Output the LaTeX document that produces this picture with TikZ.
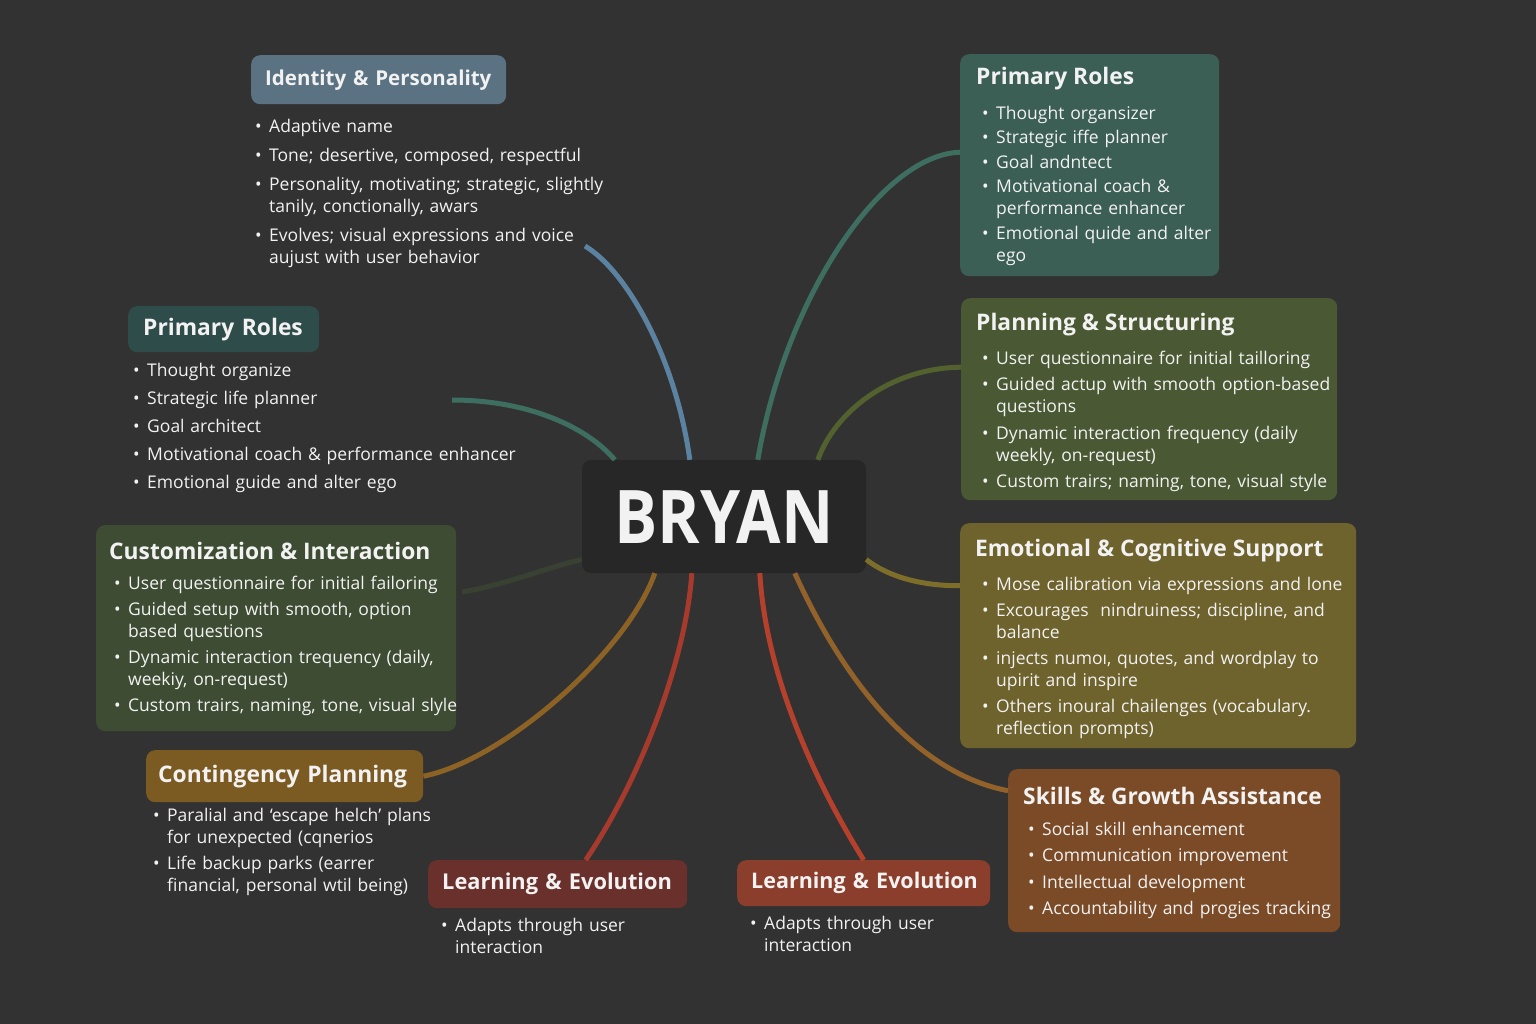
\documentclass[tikz,border=0pt]{standalone}
\usepackage{fontspec}
\setmainfont{Open Sans}
\usepackage{tikz}
\usetikzlibrary{positioning}

\definecolor{bgc}{HTML}{323232}
\definecolor{hubc}{HTML}{272727}
\definecolor{txt}{HTML}{F2F2F2}
\definecolor{idc}{HTML}{5A7282}
\definecolor{rolec}{HTML}{3B5E55}
\definecolor{rolelc}{HTML}{2E4C4A}
\definecolor{planc}{HTML}{4A5934}
\definecolor{custc}{HTML}{3D4C32}
\definecolor{emoc}{HTML}{6E622D}
\definecolor{contc}{HTML}{7C5B23}
\definecolor{learnlc}{HTML}{6A302C}
\definecolor{learnrc}{HTML}{8B3E2B}
\definecolor{skillc}{HTML}{7B4B27}
% connector colours
\definecolor{lnid}{HTML}{5B82A0}
\definecolor{lnrole}{HTML}{3D6E60}
\definecolor{lnplan}{HTML}{52612E}
\definecolor{lnemo}{HTML}{7D6F2A}
\definecolor{lncont}{HTML}{8C6325}
\definecolor{lnred}{HTML}{A63A2D}
\definecolor{lnredr}{HTML}{B5402C}
\definecolor{lnskill}{HTML}{93622A}

\newcommand{\headfont}{\fontsize{22.8}{26}\selectfont\bfseries}
\newcommand{\smallhead}[1]{\fontsize{#1}{26}\selectfont\bfseries}
\newcommand{\bodyfont}{\fontsize{17.5}{22}\selectfont}
\newcommand{\itm}[1]{\par\noindent\hangindent=14pt\hangafter=1\hbox to 14pt{\textbullet\hss}\strut#1\par}

\tikzset{
  card/.style={rounded corners=9pt, anchor=north west, inner sep=0pt},
  head/.style={card, font=\headfont, text=txt, inner xsep=14pt},
  ttl/.style={anchor=west, inner sep=0pt, font=\headfont, text=txt},
  blist/.style={anchor=north west, inner sep=0pt, text width=430pt, font=\bodyfont, text=txt,
    execute at begin node={\setlength{\parskip}{#1}}},
  link/.style={line width=5pt},
}

\begin{document}
\begin{tikzpicture}[x=1pt,y=-1pt]
\fill[bgc] (0,0) rectangle (1536,1024);
\useasboundingbox (0,0) rectangle (1536,1024);
%
\node[card, fill=hubc, minimum width=284pt, minimum height=113pt, anchor=center,
  font=\fontsize{74}{80}\selectfont\bfseries, text=txt] (bryan) at (724,516.5) {\scalebox{0.87}[1]{BRYAN}};
%
\node[head, fill=idc, text width=227pt, minimum height=49pt, font=\smallhead{20.5}] (idhead) at (251,55) {\mbox{Identity \& Personality}};
\node[blist=7pt] (idlist) at (255,103.5) {%
  \itm{Adaptive name}
  \itm{Tone; desertive, composed, respectful}
  \itm{Personality, motivating; strategic, slightly\newline tanily, conctionally, awars}
  \itm{Evolves; visual expressions and voice\newline aujust with user behavior}};
%
\node[card, fill=rolec, minimum width=259pt, minimum height=222pt] (rolesR) at (960,54) {};
\node[ttl] (rolesRt) at (976,79) {Primary Roles};
\node[blist=2.5pt] (rolesRl) at (982,94.5) {%
  \itm{Thought organsizer}
  \itm{Strategic iffe planner}
  \itm{Goal andntect}
  \itm{Motivational coach \&\newline performance enhancer}
  \itm{Emotional quide and alter\newline ego}};
%
\node[head, fill=rolelc, text width=161pt, inner xsep=15pt, minimum height=46pt] (rolesL) at (128,306) {\mbox{Primary Roles}};
\node[blist=6pt] (rolesLl) at (133,348.5) {%
  \itm{Thought organize}
  \itm{Strategic life planner}
  \itm{Goal architect}
  \itm{Motivational coach \& performance enhancer}
  \itm{Emotional guide and alter ego}};
%
\node[card, fill=planc, minimum width=376pt, minimum height=202pt] (plan) at (961,298) {};
\node[ttl] (plant) at (976,325) {Planning \& Structuring};
\node[blist=4.5pt] (planl) at (982,337.5) {%
  \itm{User questionnaire for initial tailloring}
  \itm{Guided actup with smooth option-based\newline questions}
  \itm{Dynamic interaction frequency (daily\newline weekly, on-request)}
  \itm{Custom trairs; naming, tone, visual style}};
%
\node[card, fill=custc, minimum width=360pt, minimum height=206pt] (cust) at (96,525) {};
\node[ttl] (custt) at (109,551) {Customization \& Interaction};
\node[blist=4pt] (custl) at (114,563.5) {%
  \itm{User questionnaire for initial failoring}
  \itm{Guided setup with smooth, option\newline based questions}
  \itm{Dynamic interaction trequency (daily,\newline weekiy, on-request)}
  \itm{Custom trairs, naming, tone, visual slyle}};
%
\node[card, fill=emoc, minimum width=396pt, minimum height=225pt] (emo) at (960,523) {};
\node[ttl] (emot) at (975,551) {Emotional \& Cognitive Support};
\node[blist=4pt] (emol) at (982,564.5) {%
  \itm{Mose calibration via expressions and lone}
  \itm{Excourages\ \ nindruiness; discipline, and\newline balance}
  \itm{injects numoı, quotes, and wordplay to\newline upirit and inspire}
  \itm{Others inoural chailenges (vocabulary.\newline reflection prompts)}};
%
\node[head, fill=contc, text width=253pt, inner xsep=12pt, minimum height=52pt] (cont) at (146,750) {\mbox{Contingency Planning}};
\node[blist=4pt] (contl) at (153,795.5) {%
  \itm{Paralial and ‘escape helch’ plans\newline for unexpected (cqnerios}
  \itm{Life backup parks (earrer\newline financial, personal wtil being)}};
%
\node[head, fill=learnlc, text width=231pt, minimum height=48pt, font=\smallhead{21.8}] (learnL) at (428,860) {\mbox{Learning \& Evolution}};
\node[blist=4pt] (learnLl) at (441,905.5) {%
  \itm{Adapts through user\newline interaction}};
%
\node[head, fill=learnrc, text width=225pt, minimum height=46pt, font=\smallhead{21.5}] (learnR) at (737,860) {\mbox{Learning \& Evolution}};
\node[blist=4pt] (learnRl) at (750,903.5) {%
  \itm{Adapts through user\newline interaction}};
%
\node[card, fill=skillc, minimum width=332pt, minimum height=163pt] (skills) at (1008,769) {};
\node[ttl] (skillst) at (1023,796) {Skills \& Growth Assistance};
\node[blist=4.5pt] (skillsl) at (1028,808.5) {%
  \itm{Social skill enhancement}
  \itm{Communication improvement}
  \itm{Intellectual development}
  \itm{Accountability and progies tracking}};
%
\coordinate (idtail) at (585,246);
\coordinate (roletail) at (452,400);
\coordinate (custtail) at (462,592);
%
\draw[link, lnid] (idtail) .. controls (628,272) and (676,360) .. ([xshift=108pt]bryan.north west);
\draw[link, lnrole] (roletail) .. controls (525,400) and (585,425) .. ([xshift=33pt]bryan.north west);
\draw[link, lnrole] ([yshift=13pt]rolesR.west) .. controls (880,155) and (785,300) .. ([xshift=176pt]bryan.north west);
\draw[link, lnplan] ([yshift=32pt]plan.west) .. controls (890,368) and (835,412) .. ([xshift=236pt]bryan.north west);
\draw[link, custc, opacity=0.6] (custtail) .. controls (505,585) and (545,568) .. ([yshift=-43pt]bryan.west);
\draw[link, lnemo] ([yshift=50pt]emo.west) .. controls (912,586) and (882,572) .. ([yshift=-43pt]bryan.east);
\draw[link, lncont] (cont.east) .. controls (505,760) and (628,650) .. ([xshift=73pt]bryan.south west);
\draw[link, lnred] ([xshift=28pt]learnL.north) .. controls (640,780) and (686,660) .. ([xshift=110pt]bryan.south west);
\draw[link, lnredr] ([xshift=178pt]bryan.south west) .. controls (766,680) and (820,790) .. (learnR.north);
\draw[link, lnskill] ([xshift=213pt]bryan.south west) .. controls (850,695) and (925,775) .. ([yshift=60pt]skills.west);
\end{tikzpicture}
\end{document}
